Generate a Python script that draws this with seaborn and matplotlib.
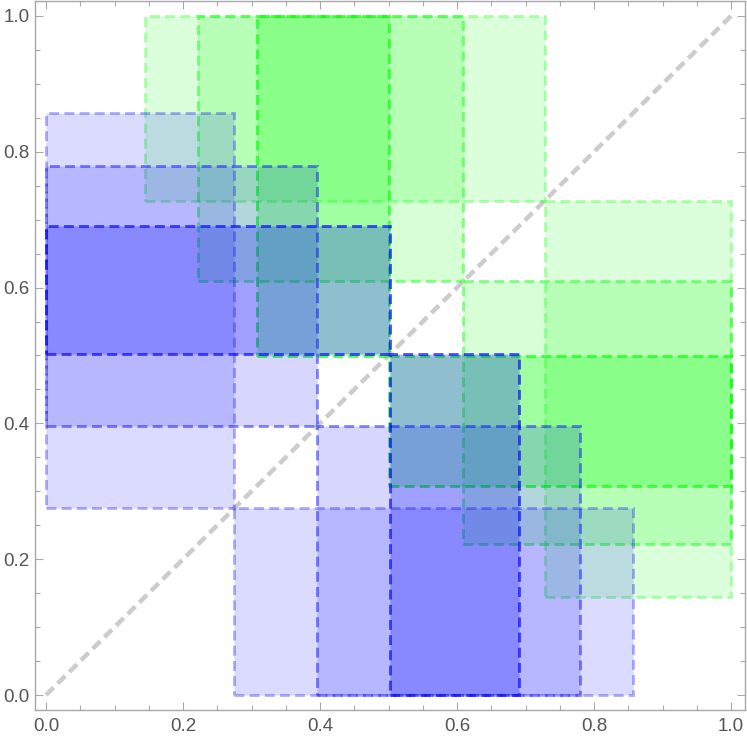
import numpy as np
import pandas as pd
import matplotlib
matplotlib.use("Agg")
import matplotlib.pyplot as plt
import seaborn as sns
from matplotlib.patches import Rectangle

# region bounds (three nested levels per colour)
blue_lo = [0.275, 0.396, 0.502]
blue_hi = [0.857, 0.779, 0.690]
green_lo = [0.145, 0.222, 0.308]
green_hi = [0.728, 0.609, 0.500]

fill_alpha = [0.14, 0.16, 0.25]
edge_alpha = [0.30, 0.45, 0.65]

diag = [0.0, 1.0]
tick_vals = [0.0, 0.2, 0.4, 0.6, 0.8, 1.0]
tick_labels = ["0.0", "0.2", "0.4", "0.6", "0.8", "1.0"]

sns.set_style("ticks")
plt.rcParams["font.family"] = ["Liberation Sans", "DejaVu Sans"]

fig = plt.figure(figsize=(7.47, 7.42), dpi=100)
ax = fig.add_axes([35 / 747, 32 / 742, 710 / 747, 709 / 742])

diag_df = pd.DataFrame({"x": diag, "y": diag})
sns.lineplot(data=diag_df, x="x", y="y", ax=ax, color="#cccccc", lw=3.2,
             dashes=False, zorder=1)
ax.lines[-1].set_linestyle((0, (2.4, 1.3)))
ax.lines[-1].set_dash_capstyle("butt")


def add_rect(x0, x1, y0, y1, rgb, fa, ea, z):
    r = Rectangle((x0, y0), x1 - x0, y1 - y0,
                  facecolor=(*rgb, fa), edgecolor=(*rgb, ea),
                  lw=2.1, linestyle=(0, (3.4, 1.8)), zorder=z)
    ax.add_patch(r)


for i in range(3):
    g = (0.0, 1.0, 0.0)
    lo, hi = green_lo[i], green_hi[i]
    add_rect(lo, hi, hi, 1.0, g, fill_alpha[i], edge_alpha[i], 2 + i)
    add_rect(hi, 1.0, lo, hi, g, fill_alpha[i], edge_alpha[i], 2 + i)

for i in range(3):
    b = (0.0, 0.0, 1.0)
    lo, hi = blue_lo[i], blue_hi[i]
    add_rect(0.0, lo, lo, hi, b, fill_alpha[i], edge_alpha[i], 5 + i)
    add_rect(lo, hi, 0.0, lo, b, fill_alpha[i], edge_alpha[i], 5 + i)

ax.set_xlim(-11 / 685, 1 + 14 / 685)
ax.set_ylim(-15 / 680, 1 + 15 / 680)
ax.set_xlabel("")
ax.set_ylabel("")

ax.set_xticks(tick_vals)
ax.set_xticklabels(tick_labels)
ax.set_yticks(tick_vals)
ax.set_yticklabels(tick_labels)
ax.set_xticks(np.arange(0, 1.01, 0.05), minor=True)
ax.set_yticks(np.arange(0, 1.01, 0.05), minor=True)

for s in ax.spines.values():
    s.set_visible(True)
    s.set_color("#a8a8a8")
    s.set_linewidth(1.0)

ax.tick_params(which="both", direction="in", top=True, right=True,
               color="#a8a8a8", width=0.8, labelcolor="#555555",
               labelsize=13.5)
ax.tick_params(which="major", length=6)
ax.tick_params(which="minor", length=3.5)
ax.tick_params(axis="x", pad=6)
ax.tick_params(axis="y", pad=4)

fig.savefig("out.png", dpi=100)
